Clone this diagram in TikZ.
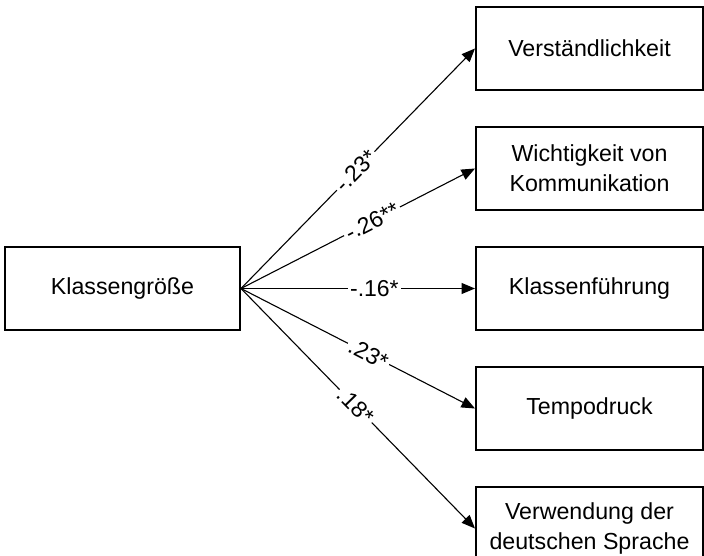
\documentclass[tikz,border=0pt]{standalone}
\usepackage{fontspec}
\setmainfont{Liberation Sans}
\usetikzlibrary{positioning,arrows.meta}

\begin{document}
\begin{tikzpicture}[x=1pt, y=-1pt, node distance=35pt,
  box/.style={draw, line width=2pt, minimum height=83pt, align=center,
    font=\fontsize{23.2}{30}\selectfont},
  outbox/.style={box, minimum width=227pt},
  arr/.style={-{Triangle[length=13.5pt,width=11pt]}, line width=1.1pt},
  coef/.style={sloped, fill=white, inner sep=2.5pt, font=\fontsize{23}{26}\selectfont}]

  \useasboundingbox (0,0) rectangle (704,556);

  % outcome boxes on the right
  \node[outbox] (verst) at (589.5,48.5) {Verständlichkeit};
  \node[outbox, below=of verst] (wicht) {Wichtigkeit von\\Kommunikation};
  \node[outbox, below=of wicht] (fuehr) {Klassenführung};
  \node[outbox, below=of fuehr] (tempo) {Tempodruck};
  \node[outbox, below=of tempo] (verw) {Verwendung der\\deutschen Sprache};

  % predictor
  \node[box, minimum width=235pt, left=234pt of fuehr] (klasse) {Klassengröße};

  \draw[arr] (klasse.east) -- node[coef, pos=0.49] {-.23*} (verst.west);
  \draw[arr] (klasse.east) -- node[coef, pos=0.56] {-.26**} (wicht.west);
  \draw[arr] (klasse.east) -- node[coef, pos=0.57] {-.16*} (fuehr.west);
  \draw[arr] (klasse.east) -- node[coef, pos=0.545] {.23*} (tempo.west);
  \draw[arr] (klasse.east) -- node[coef, pos=0.49] {.18*} (verw.west);
\end{tikzpicture}
\end{document}
